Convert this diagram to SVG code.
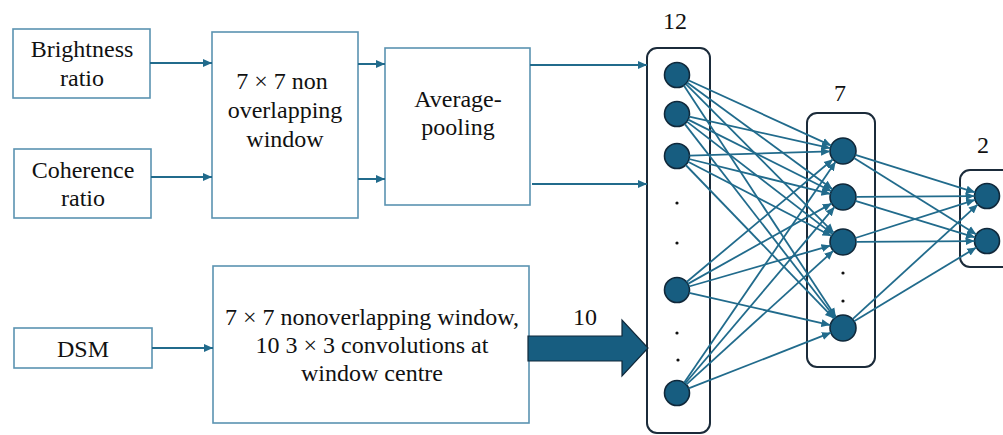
<svg xmlns="http://www.w3.org/2000/svg" width="1003" height="435" viewBox="0 0 1003 435">
<style>
.box{fill:#fff;stroke:#5b93b1;stroke-width:1.6}
.layer{fill:#fff;stroke:#1b2b3a;stroke-width:2}
.node{fill:#175d80;stroke:#10283a;stroke-width:1.6}
.dot{fill:#111}
.t{font-family:"Liberation Serif","Times New Roman",serif;font-size:24px;fill:#111;text-anchor:middle}
.flow{stroke:#216b8c;stroke-width:2;fill:none;marker-end:url(#ah)}
.edge{stroke:#216b8c;stroke-width:1.8;fill:none;marker-end:url(#ah2)}
</style>
<defs>
<marker id="ah" markerUnits="userSpaceOnUse" markerWidth="10" markerHeight="10" refX="9" refY="5" orient="auto"><path d="M0,1 L9,5 L0,9 Z" fill="#216b8c"/></marker>
<marker id="ah2" markerUnits="userSpaceOnUse" markerWidth="10" markerHeight="10" refX="9" refY="5" orient="auto"><path d="M0,1 L9,5 L0,9 Z" fill="#216b8c"/></marker>
</defs>
<rect width="1003" height="435" fill="#fff"/>

<g id="brightness"><rect class="box" x="13" y="29" width="137" height="69"/><text class="t" x="82" y="57">Brightness</text><text class="t" x="82" y="86">ratio</text></g>
<g id="coherence"><rect class="box" x="14" y="149" width="137" height="69"/><text class="t" x="83" y="178">Coherence</text><text class="t" x="83" y="206">ratio</text></g>
<g id="window"><rect class="box" x="212" y="32" width="146" height="186"/><text class="t" x="282" y="89">7 × 7 non</text><text class="t" x="285" y="118">overlapping</text><text class="t" x="285" y="147">window</text></g>
<g id="avgpool"><rect class="box" x="385" y="48" width="145" height="157"/><text class="t" x="458" y="107">Average-</text><text class="t" x="458" y="135">pooling</text></g>
<g id="dsm"><rect class="box" x="14" y="328" width="138" height="40"/><text class="t" x="83" y="357">DSM</text></g>
<g id="conv"><rect class="box" x="213" y="266" width="316" height="157"/><text class="t" x="372" y="325">7 × 7 nonoverlapping window,</text><text class="t" x="372" y="353">10 3 × 3 convolutions at</text><text class="t" x="372" y="381">window centre</text></g>

<g id="layer12"><rect class="layer" x="647" y="48" width="63" height="385" rx="10"/><text class="t" x="675" y="29">12</text>
<circle class="node" cx="677" cy="75" r="12.5"/><circle class="node" cx="677" cy="114" r="12.5"/><circle class="node" cx="677" cy="156" r="12.5"/><circle class="node" cx="677" cy="290" r="12.5"/><circle class="node" cx="677" cy="393" r="12.5"/>
<circle class="dot" cx="677" cy="203" r="1.6"/><circle class="dot" cx="677" cy="243" r="1.6"/><circle class="dot" cx="677" cy="333" r="1.6"/><circle class="dot" cx="678" cy="360" r="1.6"/></g>
<g id="layer7"><rect class="layer" x="807" y="113" width="68" height="254" rx="10"/><text class="t" x="840" y="101">7</text>
<circle class="node" cx="843" cy="151" r="13"/><circle class="node" cx="843" cy="197" r="13"/><circle class="node" cx="843" cy="242" r="13"/><circle class="node" cx="843" cy="328" r="13"/>
<circle class="dot" cx="843" cy="273" r="1.6"/><circle class="dot" cx="843" cy="301" r="1.6"/></g>
<g id="layer2"><rect class="layer" x="960" y="170" width="60" height="97" rx="10"/><text class="t" x="983" y="153">2</text>
<circle class="node" cx="987" cy="196" r="12.5"/><circle class="node" cx="987" cy="241" r="12.5"/></g>

<g id="connectors">
<line class="flow" x1="150" y1="63" x2="212" y2="63"/>
<line class="flow" x1="151" y1="177" x2="212" y2="177"/>
<line class="flow" x1="358" y1="64" x2="385" y2="64"/>
<line class="flow" x1="358" y1="179" x2="385" y2="179"/>
<line class="flow" x1="530" y1="65" x2="647" y2="65"/>
<line class="flow" x1="532" y1="184" x2="647" y2="184"/>
<line class="flow" x1="152" y1="348" x2="213" y2="348"/>
<path d="M528,336 L622,336 L622,320 L648,348 L622,376 L622,361 L528,361 Z" fill="#175d80" stroke="#10283a" stroke-width="1.2"/>
<text class="t" x="585" y="325">10</text>
<line class="edge" x1="688.4" y1="80.2" x2="831.2" y2="145.6"/>
<line class="edge" x1="687.1" y1="82.4" x2="832.5" y2="189.3"/>
<line class="edge" x1="685.8" y1="83.9" x2="833.8" y2="232.8"/>
<line class="edge" x1="683.9" y1="85.5" x2="835.9" y2="317.1"/>
<line class="edge" x1="689.2" y1="116.7" x2="830.3" y2="148.2"/>
<line class="edge" x1="688.2" y1="119.6" x2="831.4" y2="191.2"/>
<line class="edge" x1="686.9" y1="121.6" x2="832.7" y2="234.1"/>
<line class="edge" x1="684.7" y1="123.9" x2="835.0" y2="317.7"/>
<line class="edge" x1="689.5" y1="155.6" x2="830.0" y2="151.4"/>
<line class="edge" x1="689.1" y1="159.0" x2="830.4" y2="193.9"/>
<line class="edge" x1="688.1" y1="161.8" x2="831.5" y2="236.0"/>
<line class="edge" x1="685.7" y1="165.0" x2="834.0" y2="318.6"/>
<line class="edge" x1="686.6" y1="282.0" x2="833.0" y2="159.3"/>
<line class="edge" x1="687.9" y1="283.9" x2="831.7" y2="203.4"/>
<line class="edge" x1="689.0" y1="286.5" x2="830.5" y2="245.6"/>
<line class="edge" x1="689.2" y1="292.8" x2="830.3" y2="325.1"/>
<line class="edge" x1="684.1" y1="382.7" x2="835.6" y2="161.7"/>
<line class="edge" x1="685.1" y1="383.5" x2="834.6" y2="206.9"/>
<line class="edge" x1="686.2" y1="384.6" x2="833.4" y2="250.7"/>
<line class="edge" x1="688.6" y1="388.4" x2="830.9" y2="332.7"/>
<line class="edge" x1="855.4" y1="154.9" x2="975.1" y2="192.3"/>
<line class="edge" x1="854.0" y1="157.9" x2="976.4" y2="234.4"/>
<line class="edge" x1="856.0" y1="196.9" x2="974.5" y2="196.1"/>
<line class="edge" x1="855.4" y1="200.8" x2="975.0" y2="237.3"/>
<line class="edge" x1="855.4" y1="238.0" x2="975.1" y2="199.8"/>
<line class="edge" x1="856.0" y1="241.9" x2="974.5" y2="241.1"/>
<line class="edge" x1="852.6" y1="319.2" x2="977.8" y2="204.4"/>
<line class="edge" x1="854.1" y1="321.3" x2="976.3" y2="247.5"/>
</g>
</svg>
